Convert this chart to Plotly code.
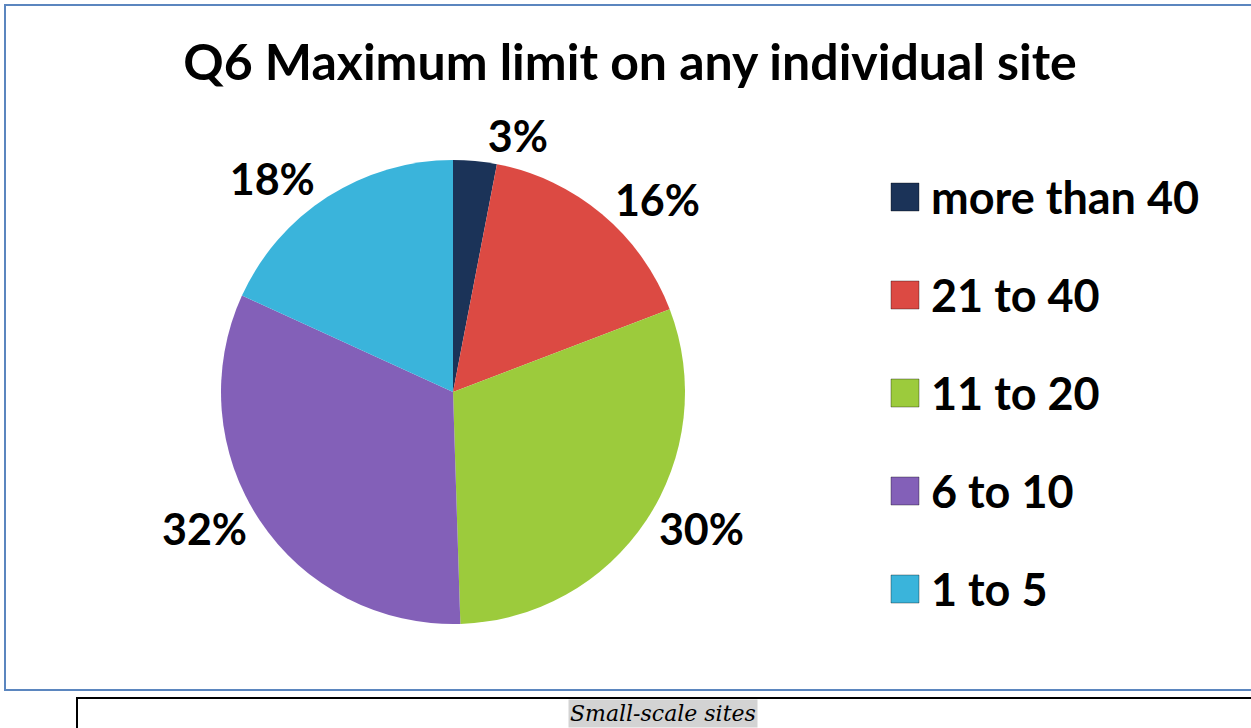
import plotly.graph_objects as go

W, H = 1251, 728

categories = ["more than 40", "21 to 40", "11 to 20", "6 to 10", "1 to 5"]
shares = [3, 16, 30, 32, 18]
colors = ["#1B3358", "#DC4A43", "#9CCB3C", "#8360B8", "#3AB4DB"]
title_text = "Q6 Maximum limit on any individual site"
caption = "Small-scale sites"


def px_x(x):
    return x / W


def px_y(y):
    return 1 - y / H


fig = go.Figure(
    go.Pie(
        labels=categories,
        values=shares,
        sort=False,
        direction="clockwise",
        rotation=0,
        marker=dict(colors=colors, line=dict(width=0)),
        texttemplate="%{value}%",
        textposition="outside",
        outsidetextfont=dict(family="Lato", size=43, color="black", weight="bold"),
        domain=dict(x=[px_x(221), px_x(685)], y=[px_y(624), px_y(160)]),
        showlegend=False,
        hoverinfo="label+value",
    )
)

# hand-made legend: big squares, wide spacing like the Excel original
leg_y0, leg_step, sq = 197, 98, 28
for i, (lab, col) in enumerate(zip(categories, colors)):
    yc = leg_y0 + i * leg_step
    fig.add_shape(
        type="rect", xref="paper", yref="paper",
        x0=px_x(891), x1=px_x(891 + sq), y0=px_y(yc + sq / 2), y1=px_y(yc - sq / 2),
        fillcolor=col, line=dict(color="rgba(0,0,0,0.35)", width=1),
    )
    fig.add_annotation(
        x=px_x(929), y=px_y(yc), xref="paper", yref="paper",
        text=lab, showarrow=False, xanchor="left", yanchor="middle",
        font=dict(family="Lato", size=45, color="black", weight="bold"),
    )

# chart-area border (light blue) and caption box
fig.add_shape(
    type="rect", xref="paper", yref="paper",
    x0=px_x(5), x1=1.05, y0=px_y(690), y1=px_y(5),
    line=dict(color="#5B86BF", width=2), fillcolor="rgba(0,0,0,0)",
)
fig.add_shape(
    type="rect", xref="paper", yref="paper",
    x0=px_x(77), x1=1.05, y0=-0.1, y1=px_y(698),
    line=dict(color="black", width=2), fillcolor="rgba(0,0,0,0)",
)
fig.add_annotation(
    x=px_x(663), y=px_y(713), xref="paper", yref="paper",
    text=caption, showarrow=False, xanchor="center", yanchor="middle",
    bgcolor="#D3D3D3", borderpad=1,
    font=dict(family="DejaVu Serif", size=22, color="black", style="italic"),
)

fig.update_layout(
    width=W,
    height=H,
    margin=dict(l=0, r=0, t=0, b=0),
    paper_bgcolor="white",
    plot_bgcolor="white",
    title=dict(
        text=title_text, x=px_x(630), y=px_y(62), xanchor="center", yanchor="middle",
        font=dict(family="Lato", size=50, color="black", weight="bold"),
    ),
)

fig.write_html(
    "out.html",
    config={"displayModeBar": False},
    post_script="document.body.style.margin='0';",
)
